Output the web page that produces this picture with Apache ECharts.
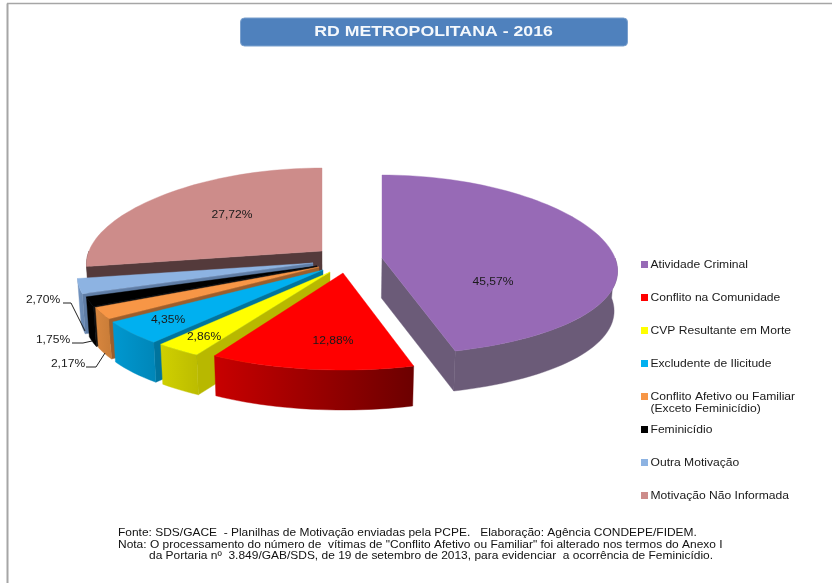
<!DOCTYPE html>
<html><head><meta charset="utf-8">
<style>html,body{margin:0;padding:0;background:#fff}#c{width:832px;height:583px}</style>
<script src="https://cdn.jsdelivr.net/npm/echarts@6/dist/echarts.min.js"></script>
</head><body><div id="c"></div>
<script>
const titleText = 'RD METROPOLITANA - 2016';
const categories = ['Atividade Criminal','Conflito na Comunidade','CVP Resultante em Morte','Excludente de Ilicitude','Conflito Afetivo ou Familiar\n(Exceto Feminicídio)','Feminicídio','Outra Motivação','Motivação Não Informada'];
const values = [45.57,12.88,2.86,4.35,2.17,1.75,2.70,27.72];
const footerLines = [
 'Fonte: SDS/GACE  - Planilhas de Motivação enviadas pela PCPE.   Elaboração: Agência CONDEPE/FIDEM.',
 'Nota: O processamento do número de  vítimas de "Conflito Afetivo ou Familiar" foi alterado nos termos do Anexo I',
 'da Portaria nº  3.849/GAB/SDS, de 19 de setembro de 2013, para evidenciar  a ocorrência de Feminicídio.'];

// styling
const topColors  = ['#976ab6','#ff0000','#ffff00','#00b0f0','#f79646','#000000','#8db3e2','#cd8c8a'];
const wallLeft   = ['#6b5b78','#c80000','#d0d000','#0098d0','#d8863e','#000000','#7394c0','#543a3b'];
const wallRight  = ['#6b5b78','#6c0000','#bcbc00','#0086b8','#c87c38','#000000','#6686b0','#543a3b'];
const radialCol  = ['#6b5b78','#700000','#b8b800','#00749e','#9c5e2c','#111111','#5f7da6','#543a3b'];
// layout
const apexX = [382,343,330,323,319,317,313,322];
const apexY = [258,273,272,270,267,266,263,251];
const widthScale = [1,0.965,1,1,1,1,1,1];
const drawOrder = [7,6,5,4,3,2,1,0];
const labelX = [493,333,204,168,null,null,null,232];
const labelY = [282,341,337,320,null,null,null,215];
const outLabelX = {4:68,5:53,6:43};
const outLabelY = {4:364,5:340,6:300};
const leaderX = {4:[86,96,105],5:[72,83,92],6:[63,71,85]};
const leaderY = {4:[367,367,353],5:[343,343,341],6:[303,303,331]};
const RX=233,RY=90,PERSP=0.15,KY=0.078,H=40,CONV=0.012,CX=330;
const FONT='"Liberation Sans",Arial,sans-serif';
const legendX=641, legendText=650.5, legendY0=264.5, legendStep=33;

const total = values.reduce((a,b)=>a+b,0);
const starts=[]; let acc=0;
values.forEach(v=>{starts.push(acc/total*360); acc+=v;});

function pt(i,deg,r,low){
  const t=deg*Math.PI/180,u=Math.sin(t),v=Math.cos(t);
  const s=1-PERSP*v;
  let x=apexX[i]+RX*widthScale[i]*u*s*r, y=apexY[i]-RY*v*(1-KY*v)*r;
  if(low){ x+=(CX-x)*CONV; y+=H; }
  return [x,y];
}
function fmt(v){return v.toFixed(2).replace('.',',');}
function poly(points,fill,z){return {type:'polygon',shape:{points},style:{fill,stroke:fill,lineWidth:0.4},z2:z,silent:true};}

function renderItem(params,api){
  const i=api.value(0), val=api.value(1);
  const a0=starts[i], a1=a0+val/total*360;
  const kids=[]; const base=params.dataIndex*10+1;
  if(Math.sin(a0*Math.PI/180)<-1e-6){
    kids.push(poly([pt(i,a0,0,false),pt(i,a0,1,false),pt(i,a0,1,true),pt(i,a0,0,true)],radialCol[i],base));
  }
  if(Math.sin(a1*Math.PI/180)>1e-6){
    kids.push(poly([pt(i,a1,0,false),pt(i,a1,1,false),pt(i,a1,1,true),pt(i,a1,0,true)],radialCol[i],base));
  }
  const w0=Math.max(a0,90), w1=Math.min(a1,270);
  if(w1>w0){
    const upper=[],lower=[];
    const n=Math.max(2,Math.ceil((w1-w0)/2));
    for(let k=0;k<=n;k++){const d=w0+(w1-w0)*k/n; upper.push(pt(i,d,1,false)); lower.unshift(pt(i,d,1,true));}
    kids.push(poly(upper.concat(lower),{type:'linear',x:1,y:0,x2:0,y2:0,colorStops:[{offset:0,color:wallRight[i]},{offset:1,color:wallLeft[i]}]},base+1));
  }
  const top=[pt(i,a0,0,false)];
  const n=Math.max(2,Math.ceil((a1-a0)/2));
  for(let k=0;k<=n;k++) top.push(pt(i,a0+(a1-a0)*k/n,1,false));
  kids.push(poly(top,topColors[i],base+2));
  const txt=fmt(val)+'%';
  if(labelX[i]!=null){
    kids.push({type:'text',x:labelX[i],y:labelY[i],scaleX:1.05,z2:200,silent:true,style:{text:txt,fill:'#1a1a1a',font:'11.5px '+FONT,align:'center',verticalAlign:'middle'}});
  }else{
    kids.push({type:'text',x:outLabelX[i],y:outLabelY[i],scaleX:1.05,z2:200,silent:true,style:{text:txt,fill:'#1a1a1a',font:'11.5px '+FONT,align:'center',verticalAlign:'middle'}});
    kids.push({type:'polyline',z2:199,silent:true,shape:{points:leaderX[i].map((x,k)=>[x,leaderY[i][k]])},style:{stroke:'#222',lineWidth:1,fill:'none'}});
  }
  const ly=legendY0+i*legendStep;
  kids.push({type:'rect',z2:200,silent:true,shape:{x:legendX,y:ly-3.5,width:7,height:7},style:{fill:topColors[i]}});
  categories[i].split('\n').forEach((ln,k)=>kids.push({type:'text',x:legendText,y:ly+k*12,scaleX:1.1,z2:200,silent:true,style:{text:ln,fill:'#1a1a1a',font:'11px '+FONT,align:'left',verticalAlign:'middle'}}));
  return {type:'group',children:kids};
}

const chart=echarts.init(document.getElementById('c'),null,{renderer:'canvas'});
const footer=(t,x,y)=>({type:'text',x,y,scaleX:1.087,silent:true,style:{text:t,fill:'#111',font:'11px '+FONT,verticalAlign:'middle'}});
chart.setOption({
  animation:false,
  backgroundColor:'#ffffff',
  graphic:[
    {type:'line',silent:true,shape:{x1:7.5,y1:3.5,x2:7.5,y2:583},style:{stroke:'#a6a6a6',lineWidth:2}},
    {type:'line',silent:true,shape:{x1:7,y1:3.5,x2:832,y2:3.5},style:{stroke:'#a6a6a6',lineWidth:1.5}},
    {type:'rect',silent:true,shape:{x:240.5,y:18,width:387,height:28,r:4},style:{fill:'#4f81bd',stroke:'#7ba0cd',lineWidth:1}},
    {type:'text',x:433.5,y:32,scaleX:1.18,silent:true,style:{text:titleText,fill:'#f4f8fc',font:'bold 15px '+FONT,align:'center',verticalAlign:'middle'}},
    footer(footerLines[0],118,533),
    footer(footerLines[1],118,545),
    footer(footerLines[2],149,556)
  ],
  series:[{
    type:'custom',coordinateSystem:'none',silent:true,clip:false,
    renderItem,
    data:drawOrder.map(i=>({name:categories[i],value:[i,values[i]]}))
  }]
});
</script></body></html>
